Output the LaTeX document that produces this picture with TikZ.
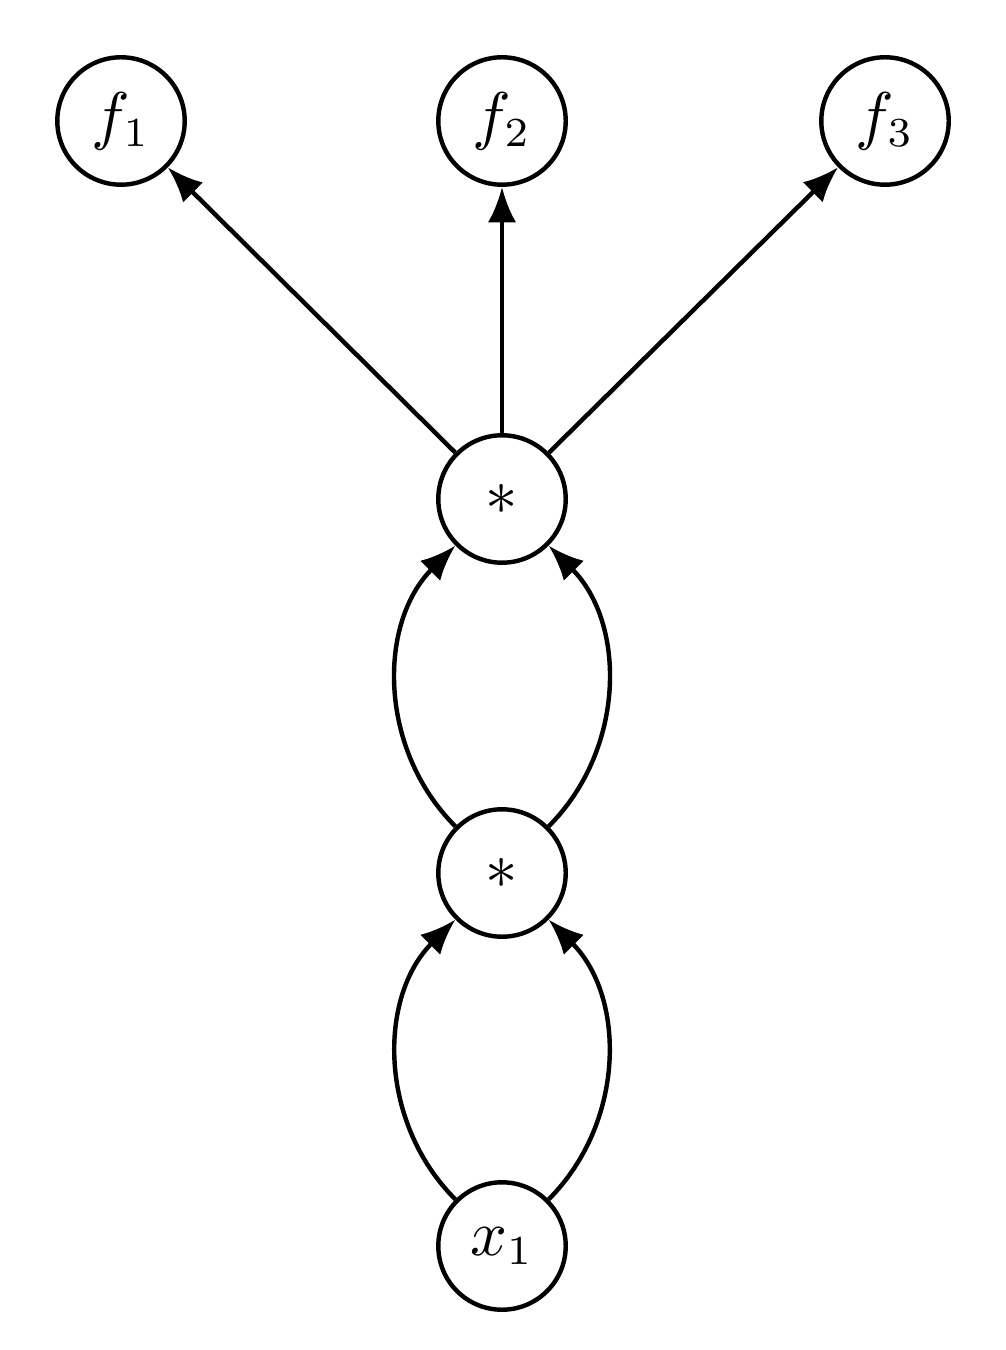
\documentclass[tikz,border=0pt]{standalone}
\usetikzlibrary{arrows.meta}
\begin{document}
\begin{tikzpicture}[x=0.1695pt,y=-0.1695pt,
  vnode/.style={draw,circle,line width=0.75pt,minimum size=21.6pt,inner sep=0pt,font=\fontsize{10.5}{12}\selectfont},
  edge/.style={line width=0.75pt,-{Latex[length=6pt,width=4.8pt]}}]
\useasboundingbox (0,0) rectangle (1005,1350);
\node[vnode] (f1) at (121,121) {$f_1$};
\node[vnode] (f2) at (502,121) {$f_2$};
\node[vnode] (f3) at (885,121) {$f_3$};
\node[vnode] (s1) at (502,499) {$*$};
\node[vnode] (s2) at (502,873) {$*$};
\node[vnode] (x1) at (502,1246) {$x_1$};
\draw[edge] (s1) -- (f1);
\draw[edge] (s1) -- (f2);
\draw[edge] (s1) -- (f3);
\draw[edge] (s2) to[out=135,in=225] (s1);
\draw[edge] (s2) to[out=45,in=-45] (s1);
\draw[edge] (x1) to[out=135,in=225] (s2);
\draw[edge] (x1) to[out=45,in=-45] (s2);
\end{tikzpicture}
\end{document}
